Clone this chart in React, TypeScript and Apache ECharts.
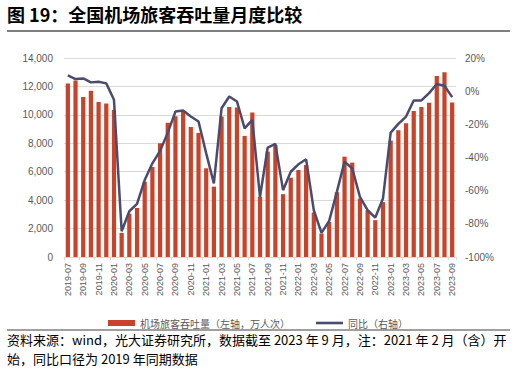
import React, { useEffect, useRef } from "react";
import * as echarts from "echarts";

const categories = [
  "2019-07","2019-08","2019-09","2019-10","2019-11","2019-12",
  "2020-01","2020-02","2020-03","2020-04","2020-05","2020-06","2020-07","2020-08","2020-09","2020-10","2020-11","2020-12",
  "2021-01","2021-02","2021-03","2021-04","2021-05","2021-06","2021-07","2021-08","2021-09","2021-10","2021-11","2021-12",
  "2022-01","2022-02","2022-03","2022-04","2022-05","2022-06","2022-07","2022-08","2022-09","2022-10","2022-11","2022-12",
  "2023-01","2023-02","2023-03","2023-04","2023-05","2023-06","2023-07","2023-08","2023-09"
];

const passengers = [
  12200, 12420, 11250, 11700, 10900, 10800,
  10350, 1700, 3050, 3450, 5300, 6330, 8000, 9450, 9900, 10200, 9150, 8730,
  6240, 4950, 9880, 10550, 10520, 8520, 10160, 4240, 7410, 7880, 4420, 5580,
  6120, 6470, 3130, 1650, 2470, 4560, 7060, 6640, 4120, 3290, 2590, 3860,
  8190, 8920, 9410, 10280, 10560, 10850, 12730, 12990, 10870
];

const yoy = [
  9.5, 7.3, 7.7, 5.3, 5.7, 4.7,
  -5.2, -84.5, -72.4, -68, -53.6, -43.5, -36, -25, -12.3, -11.7, -15.3, -18.3,
  -37.5, -55.6, -10.3, -3.2, -6.2, -22.4, -17.3, -63.7, -34, -31.8, -59.7, -48.6,
  -44.1, -41.1, -71.8, -85.5, -78.2, -60.7, -42.5, -46.6, -63.7, -71.8, -76.2, -64.7,
  -25, -19.7, -15.3, -5.6, -5.6, -1.2, 4.3, 3.3, -3.6
];

const leftTicks = { min: 0, max: 14000, interval: 2000 };
const rightTicks = { min: -100, max: 20, interval: 20 };

const barName = "机场旅客吞吐量（左轴，万人次）";
const lineName = "同比（右轴）";
const titleText = "图 19：全国机场旅客吞吐量月度比较";
const sourceLines = [
  "资料来源：wind，光大证券研究所，数据截至 2023 年 9 月，注：2021 年 2 月（含）开",
  "始，同比口径为 2019 年同期数据",
];

const FONT = "'Noto Sans CJK SC', 'Noto Sans', sans-serif";
const LINE_ICON = "path://M0,0L0,0M27,6L27,6M0,1.7L27,1.7L27,4.3L0,4.3Z";

export default function App() {
  const ref = useRef<HTMLDivElement>(null);
  useEffect(() => {
    if (!ref.current) return;
    const chart = echarts.init(ref.current, null, { renderer: "svg" });
    chart.setOption({
      animation: false,
      backgroundColor: "#ffffff",
      textStyle: { fontFamily: FONT },
      grid: { left: 64, right: 60, top: 58, bottom: 112 },
      legend: {
        left: "center",
        top: 312,
        itemWidth: 27,
        itemHeight: 6,
        itemGap: 26,
        symbolKeepAspect: false,
        textStyle: { fontSize: 10, color: "#595959", fontFamily: FONT, lineHeight: 12 },
        data: [
          { name: barName, icon: "rect" },
          { name: lineName, icon: LINE_ICON },
        ],
      },
      xAxis: {
        type: "category",
        data: categories,
        boundaryGap: true,
        axisLine: { show: true, lineStyle: { color: "#d9d9d9" } },
        axisTick: { show: true, alignWithLabel: false, length: 3, lineStyle: { color: "#d9d9d9" } },
        axisLabel: {
          interval: 1,
          rotate: 90,
          fontSize: 9,
          color: "#595959",
          margin: 6,
          fontFamily: "'Liberation Sans', Arial, sans-serif",
        },
      },
      yAxis: [
        {
          type: "value",
          min: leftTicks.min,
          max: leftTicks.max,
          interval: leftTicks.interval,
          axisLine: { show: false },
          axisTick: { show: false },
          splitLine: { lineStyle: { color: "#d9d9d9", width: 1 } },
          axisLabel: {
            fontSize: 10,
            color: "#595959",
            margin: 11,
            fontFamily: "'Liberation Sans', Arial, sans-serif",
            formatter: (v: number) => v.toLocaleString("en-US"),
          },
        },
        {
          type: "value",
          min: rightTicks.min,
          max: rightTicks.max,
          interval: rightTicks.interval,
          axisLine: { show: false },
          axisTick: { show: false },
          splitLine: { show: false },
          axisLabel: {
            fontSize: 10,
            color: "#595959",
            margin: 9,
            fontFamily: "'Liberation Sans', Arial, sans-serif",
            formatter: "{value}%",
          },
        },
      ],
      series: [
        {
          name: barName,
          type: "bar",
          data: passengers,
          barWidth: "55%",
          itemStyle: { color: "#C9432A" },
          yAxisIndex: 0,
        },
        {
          name: lineName,
          type: "line",
          data: yoy,
          yAxisIndex: 1,
          symbol: "none",
          lineStyle: { color: "#4B4B6E", width: 2.5 },
          itemStyle: { color: "#4B4B6E" },
        },
      ],
      graphic: [
        {
          type: "text",
          left: 7,
          top: 5,
          style: {
            text: titleText,
            fontSize: 18,
            fontWeight: "bold",
            fill: "#000000",
            fontFamily: FONT,
          },
        },
        {
          type: "line",
          shape: { x1: 7, y1: 31, x2: 510, y2: 31 },
          style: { stroke: "#7f7f7f", lineWidth: 2 },
        },
        {
          type: "line",
          shape: { x1: 7, y1: 330, x2: 510, y2: 330 },
          style: { stroke: "#7f7f7f", lineWidth: 1.5 },
        },
        {
          type: "text",
          left: 7,
          top: 330,
          style: {
            text: sourceLines.join("\n"),
            fontSize: 13,
            lineHeight: 19,
            fill: "#000000",
            fontFamily: FONT,
          },
        },
      ],
    });
    return () => chart.dispose();
  }, []);
  return (
    <div
      ref={ref}
      style={{ position: "absolute", left: 0, top: 0, width: 516, height: 369 }}
    />
  );
}
